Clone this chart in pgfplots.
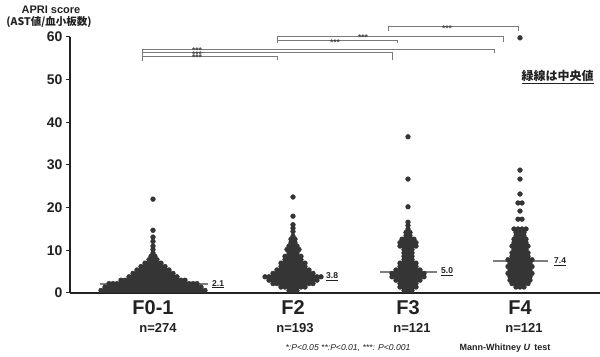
\documentclass[border=0pt]{standalone}
\usepackage{pgfplots}
\pgfplotsset{compat=1.18}
\usepackage{fontspec}
\setmainfont{Liberation Sans}
\newfontfamily\cjk{Noto Sans CJK JP}
\definecolor{dot}{HTML}{353535}
\definecolor{txt}{HTML}{222222}
\definecolor{brk}{HTML}{7A7A7A}
\definecolor{med}{HTML}{7E7E7E}
\tikzset{stars/.style={font=\bfseries\fontsize{8.5}{8.5}\selectfont, text=txt!85, anchor=center, text height=1.1pt, text depth=1.1pt, yshift=-4.8pt, inner sep=0pt}}
\begin{document}
\begin{tikzpicture}
\begin{axis}[
 scale only axis, width=530pt, height=256pt,
 xmin=70, xmax=600, ymin=0, ymax=60,
 clip=false,
 axis lines*=left,
 x axis line style={line width=1.8pt, color=txt},
 y axis line style={line width=1.2pt, color=txt},
 ytick={0,10,...,60},
 tick align=outside, major tick length=4pt,
 ytick style={line width=1pt, color=txt},
 xtick={153,293,408,520},
 xticklabels={F0-1,F2,F3,F4},
 xtick style={draw=none},
 xticklabel style={font=\bfseries\fontsize{20}{20}\selectfont, text=txt},
 yticklabel style={font=\bfseries\fontsize{14}{14}\selectfont, text=txt},
 /pgf/number format/assume math mode=true,
]
% F0-1
\addplot[only marks, mark=*, mark size=2.4pt, color=dot] coordinates {
(101,0.6)(105,0.6)(109,0.6)(113,0.6)(117,0.6)(121,0.6)(125,0.6)(129,0.6)(133,0.6)(137,0.6)(141,0.6)(145,0.6)(149,0.6)(153,0.6)(157,0.6)(161,0.6)(165,0.6)(169,0.6)(173,0.6)(177,0.6)(181,0.6)(185,0.6)(189,0.6)(193,0.6)(197,0.6)(201,0.6)(205,0.6)
(105,1.4)(109,1.4)(113,1.4)(117,1.4)(121,1.4)(125,1.4)(129,1.4)(133,1.4)(137,1.4)(141,1.4)(145,1.4)(149,1.4)(153,1.4)(157,1.4)(161,1.4)(165,1.4)(169,1.4)(173,1.4)(177,1.4)(181,1.4)(185,1.4)(189,1.4)(193,1.4)(197,1.4)(201,1.4)
(109,2.2)(113,2.2)(117,2.2)(121,2.2)(125,2.2)(129,2.2)(133,2.2)(137,2.2)(141,2.2)(145,2.2)(149,2.2)(153,2.2)(157,2.2)(161,2.2)(165,2.2)(169,2.2)(173,2.2)(177,2.2)(181,2.2)(185,2.2)(189,2.2)(193,2.2)(197,2.2)
(121,3.0)(125,3.0)(129,3.0)(133,3.0)(137,3.0)(141,3.0)(145,3.0)(149,3.0)(153,3.0)(157,3.0)(161,3.0)(165,3.0)(169,3.0)(173,3.0)(177,3.0)(181,3.0)(185,3.0)
(129,3.8)(133,3.8)(137,3.8)(141,3.8)(145,3.8)(149,3.8)(153,3.8)(157,3.8)(161,3.8)(165,3.8)(169,3.8)(173,3.8)(177,3.8)
(133,4.6)(137,4.6)(141,4.6)(145,4.6)(149,4.6)(153,4.6)(157,4.6)(161,4.6)(165,4.6)(169,4.6)(173,4.6)
(137,5.4)(141,5.4)(145,5.4)(149,5.4)(153,5.4)(157,5.4)(161,5.4)(165,5.4)(169,5.4)
(141,6.2)(145,6.2)(149,6.2)(153,6.2)(157,6.2)(161,6.2)(165,6.2)
(145,7.0)(149,7.0)(153,7.0)(157,7.0)(161,7.0)
(149,7.8)(153,7.8)(157,7.8)
(151,8.6)(155,8.6)
(153,9.4)(153,10.2)(153,11.0)(153,12.1)(153,13.1)(153,14.7)(153,22.0)
};
% F2
\addplot[only marks, mark=*, mark size=2.4pt, color=dot] coordinates {
(289,0.6)(293,0.6)(297,0.6)
(281,1.4)(285,1.4)(289,1.4)(293,1.4)(297,1.4)(301,1.4)(305,1.4)
(273,2.2)(277,2.2)(281,2.2)(285,2.2)(289,2.2)(293,2.2)(297,2.2)(301,2.2)(305,2.2)(309,2.2)(313,2.2)
(269,3.0)(273,3.0)(277,3.0)(281,3.0)(285,3.0)(289,3.0)(293,3.0)(297,3.0)(301,3.0)(305,3.0)(309,3.0)(313,3.0)(317,3.0)
(265,3.8)(269,3.8)(273,3.8)(277,3.8)(281,3.8)(285,3.8)(289,3.8)(293,3.8)(297,3.8)(301,3.8)(305,3.8)(309,3.8)(313,3.8)(317,3.8)(321,3.8)
(273,4.6)(277,4.6)(281,4.6)(285,4.6)(289,4.6)(293,4.6)(297,4.6)(301,4.6)(305,4.6)(309,4.6)(313,4.6)
(277,5.4)(281,5.4)(285,5.4)(289,5.4)(293,5.4)(297,5.4)(301,5.4)(305,5.4)(309,5.4)
(281,6.2)(285,6.2)(289,6.2)(293,6.2)(297,6.2)(301,6.2)(305,6.2)
(281,7.0)(285,7.0)(289,7.0)(293,7.0)(297,7.0)(301,7.0)(305,7.0)
(285,7.8)(289,7.8)(293,7.8)(297,7.8)(301,7.8)
(285,8.6)(289,8.6)(293,8.6)(297,8.6)(301,8.6)
(289,9.4)(293,9.4)(297,9.4)
(287,10.2)(291,10.2)(295,10.2)(299,10.2)
(289,11.0)(293,11.0)(297,11.0)
(291,11.8)(295,11.8)
(291,12.6)(295,12.6)
(293,13.3)(293,14.4)(293,15.2)(293,16.0)(293,18.0)(293,22.5)
};
% F3
\addplot[only marks, mark=*, mark size=2.4pt, color=dot] coordinates {
(404,0.6)(408,0.6)(412,0.6)
(400,1.4)(404,1.4)(408,1.4)(412,1.4)(416,1.4)
(400,2.2)(404,2.2)(408,2.2)(412,2.2)(416,2.2)
(396,3.0)(400,3.0)(404,3.0)(408,3.0)(412,3.0)(416,3.0)(420,3.0)
(392,3.8)(396,3.8)(400,3.8)(404,3.8)(408,3.8)(412,3.8)(416,3.8)(420,3.8)(424,3.8)
(392,4.6)(396,4.6)(400,4.6)(404,4.6)(408,4.6)(412,4.6)(416,4.6)(420,4.6)(424,4.6)
(396,5.4)(400,5.4)(404,5.4)(408,5.4)(412,5.4)(416,5.4)(420,5.4)
(400,6.2)(404,6.2)(408,6.2)(412,6.2)(416,6.2)
(400,7.0)(404,7.0)(408,7.0)(412,7.0)(416,7.0)
(404,7.8)(408,7.8)(412,7.8)
(404,8.6)(408,8.6)(412,8.6)
(404,9.4)(408,9.4)(412,9.4)
(404,10.2)(408,10.2)(412,10.2)
(400,11.0)(404,11.0)(408,11.0)(412,11.0)(416,11.0)
(400,11.8)(404,11.8)(408,11.8)(412,11.8)(416,11.8)
(402,12.6)(406,12.6)(410,12.6)(414,12.6)
(406,13.4)(410,13.4)
(406,14.2)(410,14.2)
(408,15.0)(408,15.8)(408,16.6)(408,20.2)(408,26.7)(408,36.6)
};
% F4
\addplot[only marks, mark=*, mark size=2.4pt, color=dot] coordinates {
(516,1.4)(520,1.4)(524,1.4)
(512,2.2)(516,2.2)(520,2.2)(524,2.2)(528,2.2)
(510,3.0)(514,3.0)(518,3.0)(522,3.0)(526,3.0)(530,3.0)
(510,3.8)(514,3.8)(518,3.8)(522,3.8)(526,3.8)(530,3.8)
(508,4.6)(512,4.6)(516,4.6)(520,4.6)(524,4.6)(528,4.6)(532,4.6)
(510,5.4)(514,5.4)(518,5.4)(522,5.4)(526,5.4)(530,5.4)
(508,6.2)(512,6.2)(516,6.2)(520,6.2)(524,6.2)(528,6.2)(532,6.2)
(510,7.0)(514,7.0)(518,7.0)(522,7.0)(526,7.0)(530,7.0)
(508,7.8)(512,7.8)(516,7.8)(520,7.8)(524,7.8)(528,7.8)(532,7.8)
(512,8.6)(516,8.6)(520,8.6)(524,8.6)(528,8.6)
(512,9.4)(516,9.4)(520,9.4)(524,9.4)(528,9.4)
(514,10.2)(518,10.2)(522,10.2)(526,10.2)
(512,11.0)(516,11.0)(520,11.0)(524,11.0)(528,11.0)
(514,11.8)(518,11.8)(522,11.8)(526,11.8)
(514,12.6)(518,12.6)(522,12.6)(526,12.6)
(516,13.4)(520,13.4)(524,13.4)
(516,14.2)(520,14.2)(524,14.2)
(514,15.0)(518,15.0)(522,15.0)(526,15.0)
(518,17.3)(522,17.3)(520,19.2)(518,21.1)(522,21.1)
(520,23.2)(520,26.7)(520,28.8)(520,59.8)
};
% medians
\addplot[med, line width=2pt] coordinates {(100,2.1)(208,2.1)};
\addplot[med, line width=2pt] coordinates {(265,3.8)(320,3.8)};
\addplot[med, line width=2pt] coordinates {(380,5.0)(437,5.0)};
\addplot[med, line width=2pt] coordinates {(493,7.4)(548,7.4)};
\node[anchor=west, font=\bfseries\fontsize{8.5}{8.5}\selectfont, text=txt, inner sep=1pt] at (axis cs:211,2.1) {\underline{2.1}};
\node[anchor=west, font=\bfseries\fontsize{8.5}{8.5}\selectfont, text=txt, inner sep=1pt] at (axis cs:325,3.8) {\underline{3.8}};
\node[anchor=west, font=\bfseries\fontsize{8.5}{8.5}\selectfont, text=txt, inner sep=1pt] at (axis cs:440,5.0) {\underline{5.0}};
\node[anchor=west, font=\bfseries\fontsize{8.5}{8.5}\selectfont, text=txt, inner sep=1pt] at (axis cs:553,7.4) {\underline{7.4}};
% brackets
\draw[brk, line width=0.8pt] (axis cs:142,54.4) -- (axis cs:142,57.2);
\draw[brk, line width=0.8pt] (axis cs:142,55.5) -- (axis cs:277,55.5) -- (axis cs:277,54.7);
\draw[brk, line width=0.8pt] (axis cs:142,56.4) -- (axis cs:392,56.4) -- (axis cs:392,54.5);
\draw[brk, line width=0.8pt] (axis cs:142,57.2) -- (axis cs:494,57.2) -- (axis cs:494,56.3);
\draw[brk, line width=0.8pt] (axis cs:277,58.7) -- (axis cs:277,60.2);
\draw[brk, line width=0.8pt] (axis cs:277,59.1) -- (axis cs:397,59.1) -- (axis cs:397,58.6);
\draw[brk, line width=0.8pt] (axis cs:277,60.2) -- (axis cs:503,60.2) -- (axis cs:503,58.8);
\draw[brk, line width=0.8pt] (axis cs:388,61.5) -- (axis cs:388,62.4) -- (axis cs:518,62.4) -- (axis cs:518,61.5);
\node[stars] at (axis cs:197,55.5) {***};
\node[stars] at (axis cs:197,56.4) {***};
\node[stars] at (axis cs:197,57.2) {***};
\node[stars] at (axis cs:335,59.1) {***};
\node[stars] at (axis cs:363,60.2) {***};
\node[stars] at (axis cs:447,62.4) {***};
% texts
\node[font=\bfseries\fontsize{11}{11}\selectfont, text=txt] at (axis cs:51,66.3) {APRI score};
\node[font=\cjk\bfseries\fontsize{10.5}{10.5}\selectfont, text=txt] at (axis cs:49,63.5) {(AST値/血小板数)};
\node[anchor=west, font=\cjk\bfseries\fontsize{12}{12}\selectfont, text=txt] at (axis cs:518,50.6) {\underline{緑線は中央値}};
\node[font=\bfseries\fontsize{13}{13}\selectfont, text=txt] at (axis cs:158,-8.2) {n=274};
\node[font=\bfseries\fontsize{13}{13}\selectfont, text=txt] at (axis cs:295,-8.2) {n=193};
\node[font=\bfseries\fontsize{13}{13}\selectfont, text=txt] at (axis cs:412,-8.2) {n=121};
\node[font=\bfseries\fontsize{13}{13}\selectfont, text=txt] at (axis cs:524,-8.2) {n=121};
\node[font=\itshape\fontsize{8.6}{8.6}\selectfont, text=txt] at (axis cs:348,-12.9) {*:P<0.05 **:P<0.01, ***: P<0.001};
\node[font=\bfseries\fontsize{9}{9}\selectfont, text=txt] at (axis cs:505,-12.9) {Mann-Whitney \textit{U}\, test};
\coordinate (bbA) at (axis cs:0,68.67);
\coordinate (bbB) at (axis cs:600,-15.0);
\end{axis}
\pgfresetboundingbox
\path[use as bounding box] (bbA) rectangle (bbB);
\end{tikzpicture}
\end{document}
